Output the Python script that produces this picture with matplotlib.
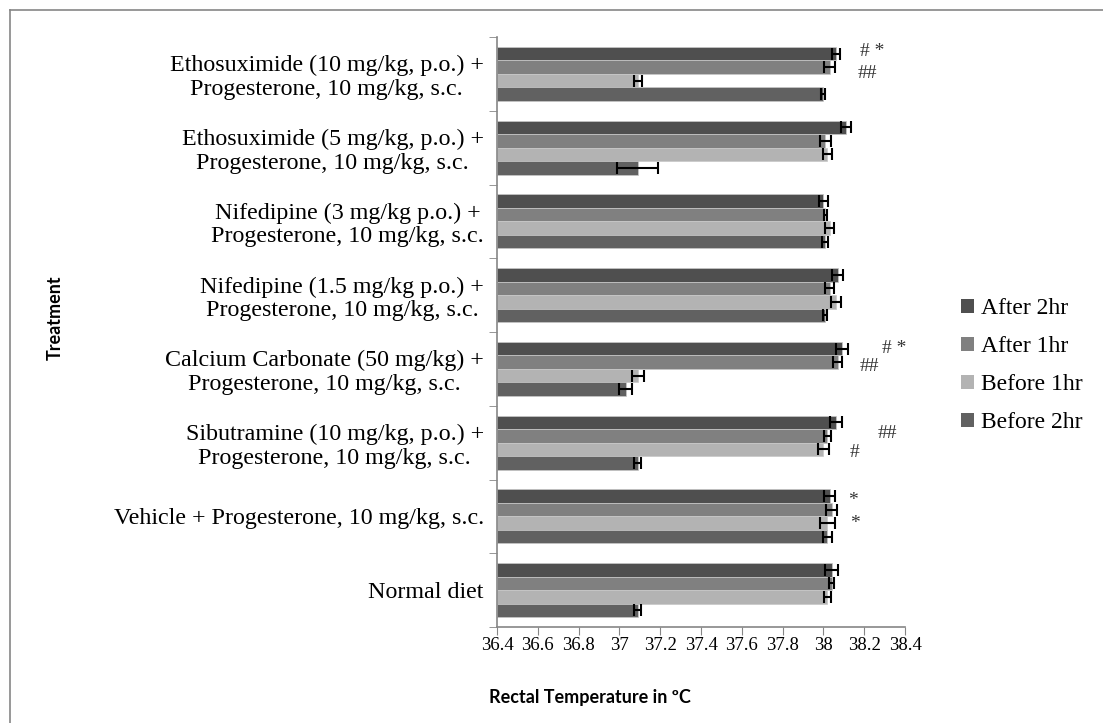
import numpy as np
import matplotlib.pyplot as plt
from matplotlib.patches import Patch
from matplotlib.lines import Line2D

# Treatment groups, bottom to top as drawn
tratamientos = ['Normal diet',
                'Vehicle + Progesterone, 10 mg/kg, s.c.',
                'Sibutramine (10 mg/kg, p.o.) +\nProgesterone, 10 mg/kg, s.c.',
                'Calcium Carbonate (50 mg/kg) +\nProgesterone, 10 mg/kg, s.c.',
                'Nifedipine (1.5 mg/kg p.o.) +\nProgesterone, 10 mg/kg, s.c.',
                'Nifedipine (3 mg/kg p.o.) +\nProgesterone, 10 mg/kg, s.c.',
                'Ethosuximide (5 mg/kg, p.o.) +\nProgesterone, 10 mg/kg, s.c.',
                'Ethosuximide (10 mg/kg, p.o.) +\nProgesterone, 10 mg/kg, s.c.']

series = ['After 2hr', 'After 1hr', 'Before 1hr', 'Before 2hr']

# Rectal temperature (ºC) for each series, same order as tratamientos
after_2hr  = [38.04, 38.03, 38.06, 38.09, 38.07, 38.00, 38.11, 38.06]
after_1hr  = [38.04, 38.04, 38.02, 38.07, 38.03, 38.01, 38.01, 38.03]
before_1hr = [38.02, 38.02, 38.00, 37.09, 38.06, 38.03, 38.02, 37.09]
before_2hr = [37.09, 38.02, 37.09, 37.03, 38.01, 38.01, 37.09, 38.00]

err_after_2hr  = [0.03, 0.025, 0.03, 0.03, 0.028, 0.023, 0.026, 0.02]
err_after_1hr  = [0.013, 0.025, 0.016, 0.023, 0.02, 0.006, 0.026, 0.026]
err_before_1hr = [0.016, 0.035, 0.026, 0.03, 0.025, 0.023, 0.02, 0.02]
err_before_2hr = [0.018, 0.024, 0.016, 0.03, 0.01, 0.015, 0.1, 0.01]

valores = [after_2hr, after_1hr, before_1hr, before_2hr]
errores = [err_after_2hr, err_after_1hr, err_before_1hr, err_before_2hr]
colores = ['#4f4f4f', '#808080', '#b3b3b3', '#616161']

# Significance marks: (text, x, y)
marcas = [('# *', 38.18, 7.30), ('##', 38.17, 7.00),
          ('# *', 38.285, 3.28), ('##', 38.18, 3.03),
          ('##', 38.265, 2.13), ('#', 38.13, 1.86),
          ('*', 38.12, 1.22), ('*', 38.13, 0.90)]

serif = ['Liberation Serif', 'DejaVu Serif']
sans = ['Lato', 'DejaVu Sans']

fig = plt.figure(figsize=(11.03, 7.23), dpi=100)
ax = fig.add_axes([497/1103, 1 - 627/723, 408/1103, 590/723])

y = np.arange(len(tratamientos))
h = 0.183
desp = [1.5, 0.5, -0.5, -1.5]
for i in range(4):
    ax.barh(y + desp[i]*h, np.array(valores[i]) - 36.4, h, left=36.4,
            color=colores[i], edgecolor='#c8c8c8', linewidth=0.5)
    ax.errorbar(valores[i], y + desp[i]*h, xerr=errores[i], fmt='none',
                ecolor='black', elinewidth=1.5, capsize=4, capthick=1.5)

for txt, xm, ym in marcas:
    ax.text(xm, ym, txt, fontsize=14, family=serif, color='#333333',
            va='center', ha='left', clip_on=False)

ax.set_xlim(36.4, 38.4)
ax.set_ylim(-0.5, 7.5)
ax.set_xticks(np.arange(36.4, 38.41, 0.2))
ax.set_xticklabels(['36.4', '36.6', '36.8', '37', '37.2', '37.4', '37.6',
                    '37.8', '38', '38.2', '38.4'], family=serif, fontsize=13.5)
ax.set_yticks(y)
ax.set_yticklabels(tratamientos, family=serif, fontsize=17.3,
                   multialignment='center', linespacing=1.15)
ax.set_yticks(np.arange(-0.5, 7.6, 1), minor=True)
ax.tick_params(axis='y', which='major', length=0, pad=9.5)
ax.tick_params(axis='y', which='minor', length=6, color='#868686')
ax.tick_params(axis='x', length=6, color='#868686', pad=1)

for s in ['top', 'right']:
    ax.spines[s].set_visible(False)
for s in ['left', 'bottom']:
    ax.spines[s].set_color('#868686')
    ax.spines[s].set_linewidth(1.2)

fig.text(55/1103, 1 - 318/723, 'Treatment', rotation=90, family=sans,
         fontweight='bold', fontsize=13, ha='center', va='center')
fig.text(590/1103, 1 - 697/723, 'Rectal Temperature in ºC', family=sans,
         fontweight='bold', fontsize=13, ha='center', va='center')

# Legend
handles = [Patch(facecolor=colores[i], edgecolor='none') for i in range(4)]
fig.legend(handles, series, loc='center left',
           bbox_to_anchor=(940/1103, 1 - 366/723), frameon=False,
           prop={'family': serif, 'size': 17}, handlelength=0.55,
           handleheight=0.55, handletextpad=0.3, labelspacing=0.72)

# Chart area border (top and left visible)
fig.add_artist(Line2D([10/1103, 1], [1 - 10/723, 1 - 10/723],
                      transform=fig.transFigure, color='#868686', lw=1.2))
fig.add_artist(Line2D([10/1103, 10/1103], [0, 1 - 10/723],
                      transform=fig.transFigure, color='#868686', lw=1.2))

plt.savefig('out.png', dpi=100)
